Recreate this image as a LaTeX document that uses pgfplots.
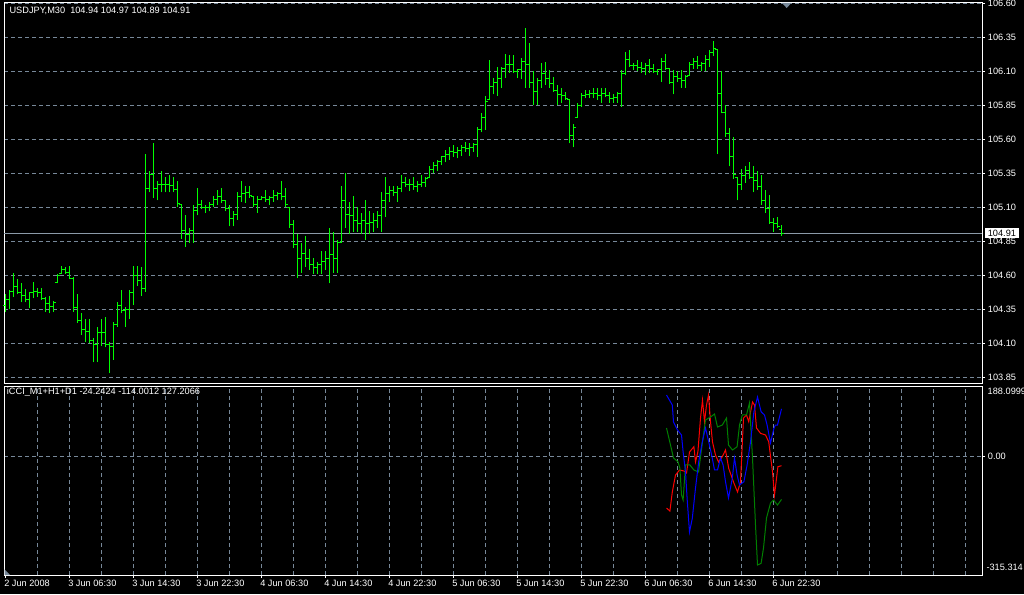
\documentclass[border=0pt]{standalone}
\usepackage{fontspec}
\setmainfont{Liberation Sans}
\usepackage{pgfplots}
\usepackage{pgfplotstable}
\pgfplotsset{compat=1.18}
\definecolor{gridc}{HTML}{778899}
\definecolor{barc}{HTML}{00FF00}
\definecolor{ccired}{HTML}{FF0000}
\definecolor{cciblue}{HTML}{0000FF}
\definecolor{ccigreen}{HTML}{008000}
\pgfdeclareplotmark{otick}{\pgfpathmoveto{\pgfpoint{-1.9pt}{0pt}}\pgfpathlineto{\pgfpoint{0pt}{0pt}}\pgfusepathqstroke}
\pgfdeclareplotmark{ctick}{\pgfpathmoveto{\pgfpoint{0pt}{0pt}}\pgfpathlineto{\pgfpoint{1.9pt}{0pt}}\pgfusepathqstroke}
\newcommand{\lbl}{\fontsize{6.9}{8}\selectfont}
% open and close of each 30-minute bar
\pgfplotstableread{
i o c
0 104.38 104.42
1 104.42 104.48
2 104.48 104.52
3 104.52 104.47
4 104.47 104.45
5 104.45 104.42
6 104.42 104.47
7 104.47 104.48
8 104.48 104.47
9 104.47 104.43
10 104.43 104.39
11 104.39 104.37
12 104.37 104.40
13 104.55 104.60
14 104.61 104.64
15 104.64 104.62
16 104.62 104.58
17 104.58 104.36
18 104.36 104.27
19 104.27 104.20
20 104.20 104.19
21 104.19 104.12
22 104.12 104.09
23 104.09 104.18
24 104.18 104.18
25 104.18 104.09
26 104.09 104.08
27 104.08 104.24
28 104.24 104.38
29 104.38 104.34
30 104.34 104.35
31 104.35 104.47
32 104.47 104.60
33 104.60 104.56
34 104.56 104.50
35 104.50 105.24
36 105.24 105.34
37 105.34 105.24
38 105.24 105.27
39 105.27 105.27
40 105.27 105.27
41 105.27 105.26
42 105.26 105.23
43 105.23 105.13
44 105.12 104.93
45 104.93 104.90
46 104.90 104.93
47 104.93 105.08
48 105.08 105.12
49 105.12 105.10
50 105.10 105.10
51 105.10 105.12
52 105.12 105.16
53 105.16 105.18
54 105.18 105.15
55 105.15 105.09
56 105.09 105.02
57 105.02 105.05
58 105.05 105.18
59 105.18 105.20
60 105.20 105.21
61 105.21 105.19
62 105.18 105.12
63 105.12 105.16
64 105.16 105.17
65 105.17 105.16
66 105.16 105.17
67 105.17 105.19
68 105.19 105.20
69 105.20 105.18
70 105.18 105.12
71 105.10 104.97
72 104.97 104.83
73 104.83 104.72
74 104.72 104.76
75 104.76 104.72
76 104.72 104.68
77 104.68 104.66
78 104.66 104.68
79 104.68 104.70
80 104.70 104.72
81 104.72 104.75
82 104.75 104.72
83 104.72 104.84
84 104.84 105.15
85 105.15 105.05
86 105.05 105.04
87 105.04 105.00
88 105.00 104.98
89 104.98 105.00
90 105.00 104.98
91 104.98 104.99
92 104.99 105.00
93 105.00 105.04
94 105.04 105.15
95 105.15 105.20
96 105.20 105.22
97 105.22 105.21
98 105.21 105.24
99 105.24 105.28
100 105.28 105.27
101 105.27 105.27
102 105.27 105.25
103 105.25 105.27
104 105.27 105.28
105 105.28 105.31
106 105.32 105.38
107 105.38 105.41
108 105.41 105.44
109 105.44 105.47
110 105.47 105.49
111 105.49 105.51
112 105.51 105.50
113 105.50 105.52
114 105.52 105.54
115 105.54 105.53
116 105.53 105.54
117 105.54 105.56
118 105.56 105.67
119 105.67 105.76
120 105.76 105.88
121 105.89 105.99
122 105.99 106.02
123 106.02 106.05
124 106.05 106.12
125 106.12 106.15
126 106.15 106.15
127 106.15 106.10
128 106.10 106.11
129 106.11 106.17
130 106.17 106.15
131 106.15 106.02
132 106.02 105.95
133 105.95 106.03
134 106.03 106.08
135 106.08 106.05
136 106.05 106.01
137 106.01 105.96
138 105.96 105.93
139 105.93 105.92
140 105.92 105.90
141 105.89 105.63
142 105.63 105.69
143 105.76 105.85
144 105.85 105.92
145 105.92 105.93
146 105.93 105.94
147 105.94 105.94
148 105.94 105.92
149 105.92 105.94
150 105.94 105.92
151 105.92 105.90
152 105.90 105.91
153 105.91 105.94
154 105.94 106.08
155 106.08 106.19
156 106.19 106.14
157 106.14 106.14
158 106.14 106.13
159 106.13 106.12
160 106.12 106.14
161 106.14 106.12
162 106.12 106.10
163 106.10 106.11
164 106.11 106.17
165 106.17 106.12
166 106.12 106.02
167 106.02 106.06
168 106.06 106.05
169 106.05 106.03
170 106.03 106.06
171 106.07 106.15
172 106.15 106.17
173 106.17 106.14
174 106.14 106.16
175 106.16 106.19
176 106.19 106.24
177 106.24 106.27
178 106.26 105.94
179 105.94 105.80
180 105.80 105.64
181 105.64 105.47
182 105.47 105.34
183 105.32 105.27
184 105.27 105.33
185 105.33 105.37
186 105.37 105.32
187 105.32 105.30
188 105.30 105.25
189 105.25 105.15
190 105.15 105.09
191 105.09 104.99
192 104.99 104.98
193 104.98 104.96
194 104.94 104.91
}\oc
% low and high of each bar, one segment per bar (nan separates bars)
\pgfplotstableread{
i p
0 104.33
0 104.46
0 nan
1 104.35
1 104.49
1 nan
2 104.44
2 104.62
2 nan
3 104.46
3 104.57
3 nan
4 104.40
4 104.54
4 nan
5 104.40
5 104.50
5 nan
6 104.36
6 104.48
6 nan
7 104.43
7 104.55
7 nan
8 104.44
8 104.51
8 nan
9 104.42
9 104.51
9 nan
10 104.33
10 104.44
10 nan
11 104.32
11 104.45
11 nan
12 104.33
12 104.41
12 nan
13 104.54
13 104.61
13 nan
14 104.61
14 104.67
14 nan
15 104.61
15 104.66
15 nan
16 104.57
16 104.67
16 nan
17 104.33
17 104.59
17 nan
18 104.25
18 104.46
18 nan
19 104.16
19 104.32
19 nan
20 104.11
20 104.28
20 nan
21 104.10
21 104.28
21 nan
22 103.96
22 104.14
22 nan
23 103.96
23 104.22
23 nan
24 104.08
24 104.28
24 nan
25 104.07
25 104.29
25 nan
26 103.88
26 104.11
26 nan
27 103.98
27 104.26
27 nan
28 104.22
28 104.40
28 nan
29 104.32
29 104.49
29 nan
30 104.22
30 104.37
30 nan
31 104.28
31 104.49
31 nan
32 104.38
32 104.67
32 nan
33 104.52
33 104.67
33 nan
34 104.45
34 104.66
34 nan
35 104.48
35 105.49
35 nan
36 105.21
36 105.37
36 nan
37 105.17
37 105.57
37 nan
38 105.15
38 105.29
38 nan
39 105.21
39 105.37
39 nan
40 105.21
40 105.32
40 nan
41 105.21
41 105.34
41 nan
42 105.21
42 105.32
42 nan
43 105.10
43 105.29
43 nan
44 104.87
44 105.12
44 nan
45 104.81
45 105.04
45 nan
46 104.84
46 104.95
46 nan
47 104.84
47 105.12
47 nan
48 105.04
48 105.24
48 nan
49 105.09
49 105.15
49 nan
50 105.06
50 105.12
50 nan
51 105.07
51 105.14
51 nan
52 105.10
52 105.18
52 nan
53 105.12
53 105.23
53 nan
54 105.13
54 105.24
54 nan
55 105.07
55 105.15
55 nan
56 104.96
56 105.12
56 nan
57 104.96
57 105.07
57 nan
58 105.01
58 105.21
58 nan
59 105.14
59 105.29
59 nan
60 105.13
60 105.26
60 nan
61 105.17
61 105.26
61 nan
62 105.10
62 105.18
62 nan
63 105.06
63 105.18
63 nan
64 105.15
64 105.18
64 nan
65 105.14
65 105.23
65 nan
66 105.12
66 105.18
66 nan
67 105.14
67 105.23
67 nan
68 105.15
68 105.21
68 nan
69 105.15
69 105.29
69 nan
70 105.10
70 105.24
70 nan
71 104.95
71 105.10
71 nan
72 104.80
72 105.01
72 nan
73 104.58
73 104.90
73 nan
74 104.62
74 104.84
74 nan
75 104.66
75 104.89
75 nan
76 104.64
76 104.79
76 nan
77 104.61
77 104.73
77 nan
78 104.61
78 104.70
78 nan
79 104.61
79 104.78
79 nan
80 104.64
80 104.78
80 nan
81 104.54
81 104.95
81 nan
82 104.62
82 104.92
82 nan
83 104.62
83 104.86
83 nan
84 104.84
84 105.26
84 nan
85 104.95
85 105.35
85 nan
86 104.90
86 105.14
86 nan
87 104.92
87 105.18
87 nan
88 104.92
88 105.10
88 nan
89 104.90
89 105.06
89 nan
90 104.86
90 105.15
90 nan
91 104.90
91 105.07
91 nan
92 104.92
92 105.06
92 nan
93 104.95
93 105.07
93 nan
94 104.92
94 105.21
94 nan
95 105.03
95 105.32
95 nan
96 105.14
96 105.26
96 nan
97 105.18
97 105.26
97 nan
98 105.14
98 105.26
98 nan
99 105.21
99 105.34
99 nan
100 105.25
100 105.32
100 nan
101 105.22
101 105.31
101 nan
102 105.23
102 105.32
102 nan
103 105.21
103 105.29
103 nan
104 105.25
104 105.34
104 nan
105 105.25
105 105.32
105 nan
106 105.32
106 105.40
106 nan
107 105.35
107 105.43
107 nan
108 105.37
108 105.45
108 nan
109 105.41
109 105.48
109 nan
110 105.43
110 105.52
110 nan
111 105.45
111 105.54
111 nan
112 105.47
112 105.56
112 nan
113 105.46
113 105.54
113 nan
114 105.48
114 105.56
114 nan
115 105.51
115 105.58
115 nan
116 105.48
116 105.57
116 nan
117 105.51
117 105.57
117 nan
118 105.47
118 105.69
118 nan
119 105.65
119 105.79
119 nan
120 105.67
120 105.92
120 nan
121 105.89
121 106.18
121 nan
122 105.93
122 106.05
122 nan
123 105.92
123 106.13
123 nan
124 105.98
124 106.13
124 nan
125 106.05
125 106.23
125 nan
126 106.09
126 106.22
126 nan
127 106.09
127 106.22
127 nan
128 106.05
128 106.12
128 nan
129 106.04
129 106.20
129 nan
130 105.98
130 106.42
130 nan
131 105.98
131 106.31
131 nan
132 105.85
132 106.10
132 nan
133 105.85
133 106.05
133 nan
134 105.98
134 106.16
134 nan
135 106.00
135 106.17
135 nan
136 105.98
136 106.11
136 nan
137 105.95
137 106.06
137 nan
138 105.85
138 106.00
138 nan
139 105.87
139 105.98
139 nan
140 105.89
140 105.95
140 nan
141 105.57
141 105.89
141 nan
142 105.54
142 105.71
142 nan
143 105.76
143 105.87
143 nan
144 105.84
144 105.94
144 nan
145 105.90
145 105.96
145 nan
146 105.90
146 105.96
146 nan
147 105.90
147 105.98
147 nan
148 105.89
148 105.98
148 nan
149 105.87
149 105.98
149 nan
150 105.91
150 105.98
150 nan
151 105.87
151 105.95
151 nan
152 105.87
152 105.93
152 nan
153 105.87
153 105.95
153 nan
154 105.84
154 106.11
154 nan
155 106.07
155 106.24
155 nan
156 106.13
156 106.26
156 nan
157 106.11
157 106.16
157 nan
158 106.10
158 106.18
158 nan
159 106.09
159 106.17
159 nan
160 106.07
160 106.16
160 nan
161 106.09
161 106.19
161 nan
162 106.09
162 106.15
162 nan
163 106.07
163 106.12
163 nan
164 106.02
164 106.20
164 nan
165 106.11
165 106.23
165 nan
166 106.01
166 106.12
166 nan
167 105.93
167 106.11
167 nan
168 106.02
168 106.10
168 nan
169 105.98
169 106.11
169 nan
170 105.98
170 106.07
170 nan
171 106.07
171 106.17
171 nan
172 106.12
172 106.20
172 nan
173 106.12
173 106.21
173 nan
174 106.10
174 106.17
174 nan
175 106.10
175 106.22
175 nan
176 106.13
176 106.26
176 nan
177 106.21
177 106.32
177 nan
178 105.49
178 106.26
178 nan
179 105.79
179 106.10
179 nan
180 105.62
180 105.85
180 nan
181 105.40
181 105.68
181 nan
182 105.31
182 105.62
182 nan
183 105.15
183 105.32
183 nan
184 105.23
184 105.38
184 nan
185 105.28
185 105.40
185 nan
186 105.31
186 105.43
186 nan
187 105.21
187 105.40
187 nan
188 105.23
188 105.37
188 nan
189 105.12
189 105.34
189 nan
190 105.06
190 105.23
190 nan
191 104.98
191 105.19
191 nan
192 104.92
192 105.02
192 nan
193 104.95
193 105.03
193 nan
194 104.89
194 104.97
}\hl
\begin{document}
\begin{tikzpicture}
\fill[black] (0,0) rectangle (768pt,445.5pt);
\clip (0,0) rectangle (768pt,445.5pt);
\pgfplotsset{
  mtstyle/.style={
    scale only axis, width=733.5pt,
    xmin=-0.375, xmax=244.125,
    axis line style={white, line width=0.75pt},
    tick align=outside, major tick length=2.25pt, minor tick length=0pt,
    tick style={white, line width=0.75pt},
    ytick pos=right, yticklabel pos=right, xtick pos=left,
    minor xtick={8,16,...,240}, xminorgrids, ymajorgrids,
    minor grid style={gridc, line width=0.75pt, dash pattern=on 3pt off 2.25pt},
    major grid style={gridc, line width=0.75pt, dash pattern=on 3pt off 2.25pt},
    tick label style={font=\lbl, text=white, inner sep=0pt},
    yticklabel style={anchor=west, xshift=2pt},
  }
}
\begin{axis}[mtstyle, name=main, at={(3pt,158.25pt)}, anchor=south west,
  height=285pt, ymin=103.808, ymax=106.602,
  xtick=\empty, unbounded coords=jump,
  ytick={103.85,104.1,104.35,104.6,104.85,105.1,105.35,105.6,105.85,106.1,106.35,106.6},
  yticklabels={103.85,104.10,104.35,104.60,104.85,105.10,105.35,105.60,105.85,106.10,106.35,106.60},
]
\addplot[gridc!85!white, line width=0.75pt, forget plot] coordinates {(-0.375,104.91) (244.125,104.91)};
% high-low range of each bar
\addplot[barc, line width=0.75pt, mark=none, forget plot] table[x=i, y=p] {\hl};
% open tick (left) and close tick (right)
\addplot[barc, line width=0.75pt, only marks, mark=otick, forget plot] table[x=i, y=o] {\oc};
\addplot[barc, line width=0.75pt, only marks, mark=ctick, forget plot] table[x=i, y=c] {\oc};
\coordinate (pl) at (axis cs:244.125,104.91);
\end{axis}
\begin{axis}[mtstyle, name=ind, at={(3pt,14.25pt)}, anchor=south west,
  height=141.75pt, ymin=-315.314, ymax=188.0999,
  xtick={0,16,...,192},
  xticklabels={2 Jun 2008,3 Jun 06:30,3 Jun 14:30,3 Jun 22:30,4 Jun 06:30,4 Jun 14:30,4 Jun 22:30,5 Jun 06:30,5 Jun 14:30,5 Jun 22:30,6 Jun 06:30,6 Jun 14:30,6 Jun 22:30},
  xticklabel style={anchor=base west, yshift=-6.5pt, xshift=-1.1pt},
  ytick={0}, yticklabels={0.00},
]
\addplot[ccired, line width=0.75pt, forget plot] coordinates {(165.25,-136.9) (166.1,-144.9) (166.7,-94.3) (167.5,-49.0) (168.5,-35.6) (169.6,-38.3) (170.25,-43.6) (171.0,12.3) (172.1,26.4) (172.5,-14.3) (173.1,13.1) (173.75,102.9) (174.25,150.8) (174.75,93.0) (175.25,137.5) (175.75,164.1) (176.25,93.0) (176.75,39.0) (177.5,4.3) (178.25,-14.3) (179.2,0.0) (180.0,17.6) (180.8,-31.1) (182.0,-67.6) (183.0,-94.3) (183.75,-67.6) (184.5,102.9) (185.25,110.9) (185.8,93.0) (186.75,145.5) (187.25,137.5) (187.75,76.2) (188.75,62.1) (190.0,57.6) (190.8,39.7) (191.75,-41.0) (192.25,-102.3) (192.75,-57.8) (193.1,-26.8) (194.0,-24.2424)};
\addplot[ccigreen, line width=0.75pt, forget plot] coordinates {(165.25,76.2) (166.25,31.0) (167.0,-3.7) (168.1,-13.5) (168.6,-31.1) (169.0,-102.3) (169.4,-115.6) (170.0,-22.3) (171.1,-22.3) (172.1,-35.6) (173.25,-41.0) (174.25,39.0) (175.0,97.5) (176.25,105.5) (177.25,113.5) (178.0,78.9) (179.2,84.2) (180.25,102.9) (180.75,30.9) (181.75,17.6) (182.9,26.4) (183.5,84.2) (184.2,110.9) (185.25,110.9) (186.0,142.8) (186.75,-3.7) (187.5,-182.2) (188.0,-288.7) (188.9,-284.2) (189.5,-243.4) (190.25,-163.5) (191.25,-123.6) (192.0,-115.6) (193.0,-128.9) (194.0,-114.0012)};
\addplot[cciblue, line width=0.75pt, forget plot] coordinates {(165.25,164.1) (166.7,137.5) (167.0,92.2) (168.0,70.9) (169.0,57.6) (169.4,13.1) (170.0,-41.0) (170.4,-111.0) (171.0,-200.8) (171.7,-164.3) (172.5,-83.6) (173.3,-13.5) (174.2,39.7) (175.0,76.2) (175.8,39.7) (176.7,-4.5) (177.25,-35.6) (178.0,-35.6) (178.75,-3.7) (179.4,-22.3) (180.0,-66.8) (180.75,-110.3) (181.7,-57.8) (182.25,-3.7) (182.9,-49.0) (183.5,-75.6) (184.6,-66.8) (185.4,-22.3) (186.25,39.0) (187.1,119.6) (188.0,158.8) (188.9,119.6) (189.75,110.9) (190.4,84.2) (191.25,36.3) (192.1,75.4) (192.5,84.2) (193.0,84.2) (194.0,127.2066)};
\end{axis}
% price label and panel texts
\node[fill=white, text=black, font=\lbl, inner xsep=2.3pt, inner ysep=1.5pt, anchor=west] at ([xshift=1.9pt]pl) {104.91};
\node[anchor=base west, inner sep=0pt, text=white, font=\lbl] at ([xshift=4pt, yshift=-7.7pt]main.north west) {USDJPY,M30\ \ 104.94 104.97 104.89 104.91};
\node[anchor=base west, inner sep=0pt, text=white, font=\lbl] at ([xshift=2pt, yshift=-6.2pt]ind.north west) {iCCI\_M1+H1+D1 -24.2424 -114.0012 127.2066};
\node[anchor=north west, inner sep=0pt, text=white, font=\lbl] at ([xshift=4.1pt, yshift=-1.5pt]ind.north east) {188.0999};
\node[anchor=south west, inner sep=0pt, text=white, font=\lbl] at ([xshift=3.2pt, yshift=3pt]ind.south east) {-315.314};
\fill[gridc] (586.5pt,443.25pt) -- (593.5pt,443.25pt) -- (590pt,439.5pt) -- cycle;
\fill[gridc] (3.4pt,14.25pt) -- (3.4pt,18.4pt) -- (7.5pt,14.25pt) -- cycle;
\end{tikzpicture}
\end{document}
